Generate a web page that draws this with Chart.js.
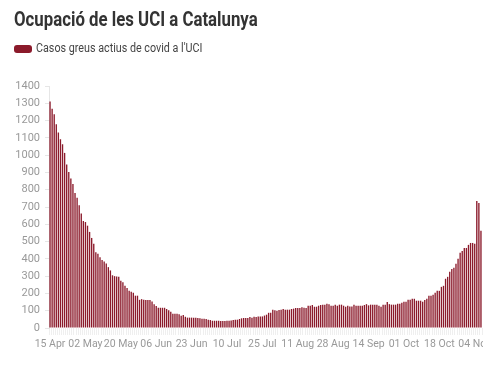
<!DOCTYPE html>
<html>
<head>
<meta charset="utf-8">
<script src="https://cdn.jsdelivr.net/npm/chart.js@4"></script>
<style>
  body { margin: 0; background: #fff; font-family: Roboto, sans-serif; }
  #wrap { position: relative; width: 498px; height: 366px; overflow: hidden; }
  #title { position: absolute; left: 14px; top: 9px; font: bold 21px/21px Roboto; color: #333;
           white-space: nowrap; transform-origin: left top; transform: scaleX(0.80); }
  #legend { position: absolute; left: 14px; top: 42px; height: 14px; white-space: nowrap; }
  #legend .sw { position: absolute; left: 0; top: 3px; width: 18px; height: 7.5px; border-radius: 3px; background: #8b1a2b; }
  #legend .txt { position: absolute; left: 22px; top: 0; font: 12.5px/12.5px Roboto; color: #444;
                 transform-origin: left top; transform: scaleX(0.86); }
  #clip { position: absolute; left: 0; top: 0; width: 483px; height: 366px; overflow: hidden; }
</style>
</head>
<body>
<div id="wrap">
  <div id="clip"><canvas id="uci-chart" width="500" height="366"></canvas></div>
  <div id="title">Ocupació de les UCI a Catalunya</div>
  <div id="legend"><span class="sw"></span><span class="txt">Casos greus actius de covid a l'UCI</span></div>
</div>
<script>
// Casos greus a l'UCI, un valor per dia des del 15 d'abril
const icuCases = [
  1311, 1269, 1236, 1179, 1131, 1092, 1063, 1013, 946, 902, 865, 833, 781, 754, 710, 663, 619,
  613, 592, 556, 521, 487, 438, 429, 410, 394, 385, 373, 352, 333, 305, 300, 298, 296,
  273, 265, 244, 231, 215, 210, 204, 187, 187, 163, 167, 163, 162, 162, 162, 154, 138,
  127, 117, 117, 117, 117, 110, 102, 94, 83, 83, 83, 79, 71, 75, 65, 60, 60, 60, 60,
  60, 58, 56, 54, 54, 52, 48, 46, 42, 42, 42, 42, 40, 40, 40, 42, 42, 44, 46, 48, 48,
  52, 56, 58, 58, 58, 63, 60, 65, 63, 67, 67, 67,
  72, 77, 88, 88, 106, 102, 100, 104, 106, 110, 106, 106, 106, 110, 112, 115, 115, 115,
  120, 117, 116, 128, 129, 133, 123, 123, 129, 133, 135, 135, 140, 137, 129, 129, 135,
  129, 135, 135, 129, 123, 129, 125, 125, 135, 129, 129, 129, 129, 133, 138, 131, 135,
  135, 135, 135, 129, 123, 135, 135, 150, 138, 135, 135, 135, 140, 140, 146, 152, 152,
  163, 163, 169, 169, 158, 158, 158, 152, 162, 169, 187, 187, 192, 204, 215, 215, 238,
  244, 285, 296, 325, 342, 348, 371, 400, 435, 446, 463, 463, 481, 492, 492, 487, 735, 723, 562
];
const tickLabels = ["15 Apr", "02 May", "20 May", "06 Jun", "23 Jun", "10 Jul", "25 Jul",
  "11 Aug", "28 Aug", "14 Sep", "01 Oct", "18 Oct", "04 Nov"];
const tickEvery = 17;
const days = icuCases.map((v, i) => i);

const barColor = "#8b1a2b";

new Chart(document.getElementById("uci-chart"), {
  type: "bar",
  data: {
    labels: days,
    datasets: [{
      label: "Casos greus actius de covid a l'UCI",
      data: icuCases,
      backgroundColor: barColor,
      borderWidth: 0,
      categoryPercentage: 1,
      barPercentage: 0.65
    }]
  },
  options: {
    responsive: false,
    animation: false,
    layout: { padding: { top: 86, right: 18, left: 0, bottom: 0 } },
    plugins: { legend: { display: false }, tooltip: { enabled: false } },
    scales: {
      x: {
        grid: { drawOnChartArea: false, color: "#efefef", tickLength: 7 },
        border: { display: false },
        ticks: {
          autoSkip: false, maxRotation: 0, minRotation: 0, padding: 3,
          color: "#999", font: { family: "Roboto", size: 10.5 },
          callback: (v, i) => i % tickEvery === 0 ? (tickLabels[i / tickEvery] || "") : ""
        },
        afterFit: s => { s.height = 38; }
      },
      y: {
        min: 0, max: 1400,
        grid: { drawOnChartArea: false, color: "#e6e6e6", tickLength: 4 },
        border: { color: "#e6e6e6" },
        ticks: {
          stepSize: 100, padding: 5, color: "#999", font: { family: "Roboto", size: 11 },
          callback: v => String(v)
        },
        afterFit: s => { s.width = 49; }
      }
    }
  }
});
</script>
</body>
</html>
